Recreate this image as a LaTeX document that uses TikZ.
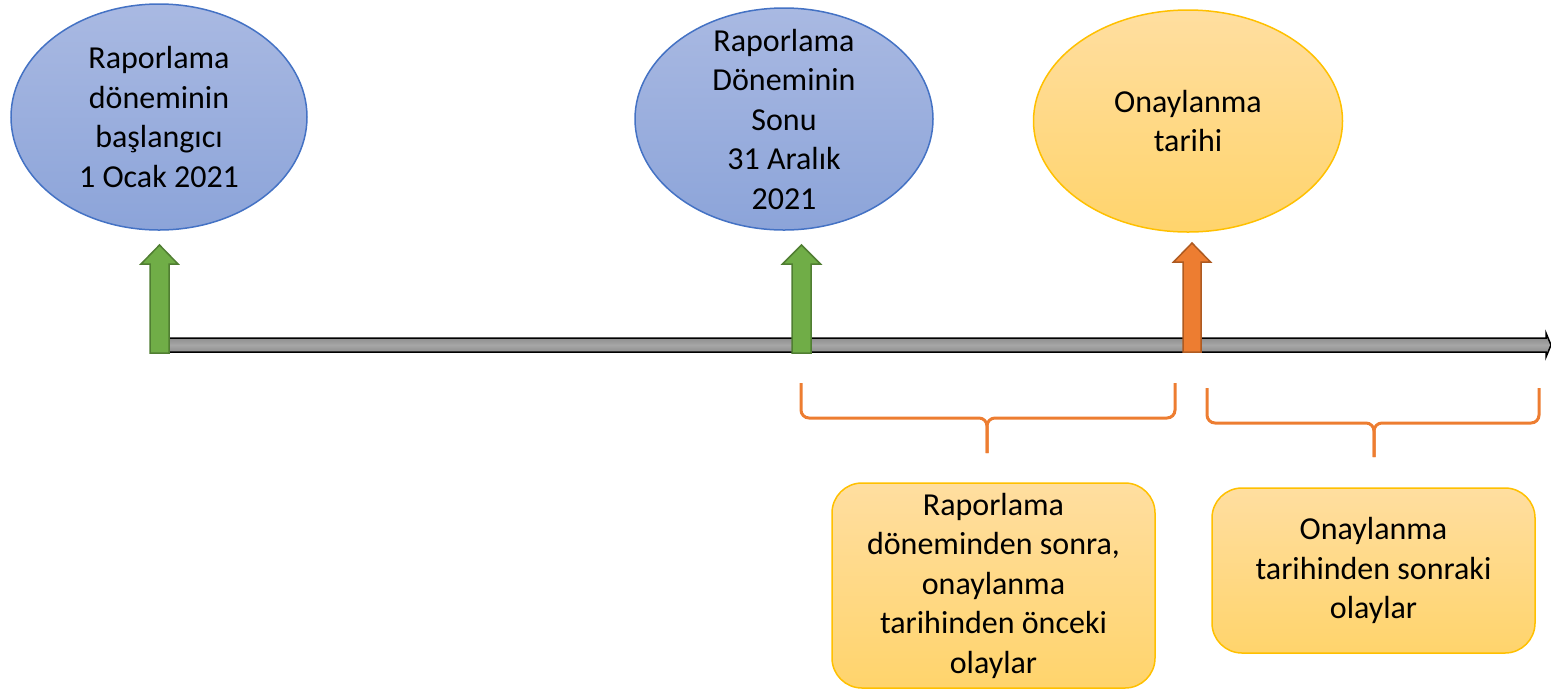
\documentclass[tikz,border=0pt]{standalone}
\usepackage{fontspec}
\setmainfont{Carlito}
\usetikzlibrary{shapes.geometric}
\definecolor{ovblue}{HTML}{4472C4}
\definecolor{ovbluetop}{HTML}{A9B9E2}
\definecolor{ovbluebot}{HTML}{8CA4D9}
\definecolor{gold}{HTML}{FFC000}
\definecolor{goldtop}{HTML}{FFDEA0}
\definecolor{goldbot}{HTML}{FFD46C}
\definecolor{mkgreen}{HTML}{70AD47}
\definecolor{mkgreendk}{HTML}{507E32}
\definecolor{mkorange}{HTML}{ED7D31}
\definecolor{mkorangedk}{HTML}{AE5A21}
\definecolor{barlight}{HTML}{A6A6A6}
\definecolor{bardark}{HTML}{7F7F7F}

\begin{document}
\begin{tikzpicture}[x=0.5pt, y=-0.5pt,
  txt/.style={align=center, font=\fontsize{16}{19.75}\selectfont,
              text=black, inner sep=0pt},
  blueoval/.style={ellipse, draw=ovblue, line width=0.75pt,
                   top color=ovbluetop, bottom color=ovbluebot, inner sep=0pt},
  goldoval/.style={ellipse, draw=gold, line width=0.75pt,
                   top color=goldtop, bottom color=goldbot, inner sep=0pt},
  eventbox/.style={txt, draw=gold, line width=0.75pt, rounded corners=15pt,
                   top color=goldtop, bottom color=goldbot,
                   minimum width=161.5pt},
  marker/.style={fill=#1, draw=#1dk, line width=0.75pt},
  timebar/.style={draw=black, line width=0.75pt, top color=bardark,
                  bottom color=bardark, middle color=barlight},
  brc/.style={draw=mkorange, line width=1.5pt, rounded corners=4pt}]

\useasboundingbox (0,0) rectangle (1551,692);

% Ovals on top
\node[blueoval, minimum width=148pt, minimum height=113pt] (startoval) at (159,117) {};
\node[txt] (startlbl) at (startoval) {Raporlama\\döneminin\\başlangıcı\\1 Ocak 2021};

\node[blueoval, minimum width=149pt, minimum height=111pt] (endoval) at (784,119) {};
\node[txt] (endlbl) at (endoval) {Raporlama\\Döneminin\\Sonu\\31 Aralık\\2021};

\node[goldoval, minimum width=154.5pt, minimum height=111pt] (apprhoval) at (1188,121) {};
\node[txt] (apprlbl) at (apprhoval) {Onaylanma\\tarihi};

% Time line
\draw[timebar] (160,338) -- (1546,338) -- (1546,333) -- (1551,345) -- (1546,357)
  -- (1546,352) -- (160,352) -- cycle;

% Markers
\draw[marker=mkgreen] (150,353) -- ++(0,-89) -- ++(-9,0) -- ++(18.5,-19)
  -- ++(18.5,19) -- ++(-9,0) -- ++(0,89) -- cycle;
\draw[marker=mkgreen] (792,353) -- ++(0,-89) -- ++(-9.5,0) -- ++(19,-19)
  -- ++(19,19) -- ++(-9.5,0) -- ++(0,89) -- cycle;
\draw[marker=mkorange] (1183,352) -- ++(0,-90) -- ++(-9.5,0) -- ++(18.5,-19)
  -- ++(18.5,19) -- ++(-9.5,0) -- ++(0,90) -- cycle;

% Braces
\draw[brc] (801,383) -- (801,418) -- (987,418) -- (987,453);
\draw[brc] (1175,383) -- (1175,418) -- (987,418) -- (987,453);
\draw[brc] (1207,388) -- (1207,423) -- (1374,423) -- (1374,457);
\draw[brc] (1539,388) -- (1539,423) -- (1374,423) -- (1374,457);

% Event boxes
\node[eventbox, minimum height=102.5pt] (beforebox) at (993.5,585.5)
  {Raporlama\\döneminden sonra,\\onaylanma\\tarihinden önceki\\olaylar};
\node[eventbox, minimum height=82.5pt] (afterbox) at (1373.5,570.5)
  {Onaylanma\\tarihinden sonraki\\olaylar};

\end{tikzpicture}
\end{document}
